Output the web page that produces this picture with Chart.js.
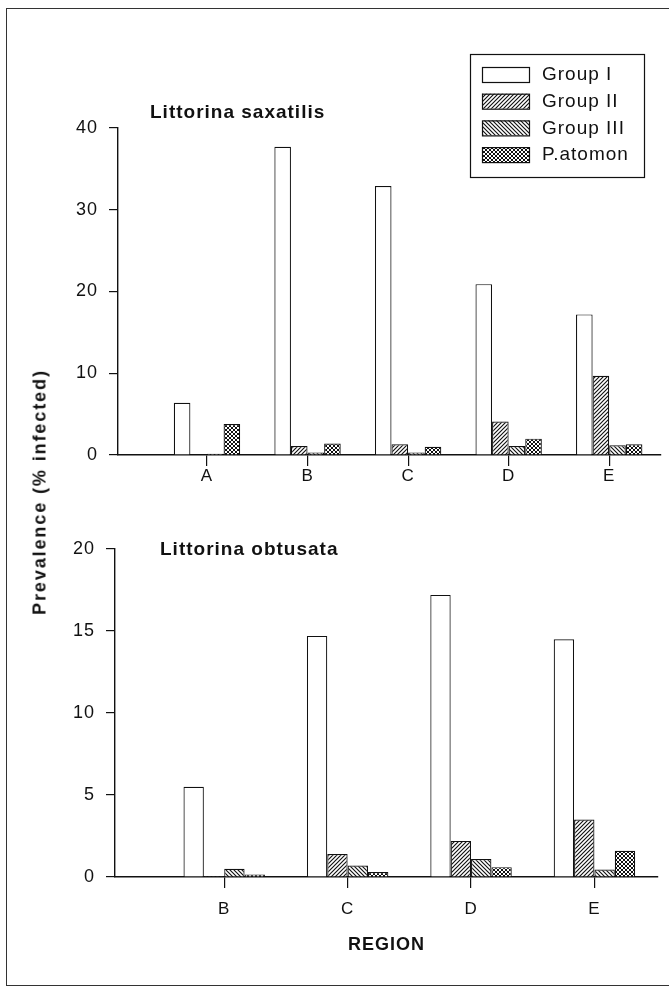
<!DOCTYPE html>
<html>
<head>
<meta charset="utf-8">
<title>Prevalence by region</title>
<script src="https://cdn.jsdelivr.net/npm/chart.js@4.4.1/dist/chart.umd.min.js"></script>
<style>
    html, body { margin: 0; padding: 0; background: #fff; }
    body { width: 669px; height: 987px; position: relative; overflow: hidden; font-family: "Liberation Sans", Arial, sans-serif; color: #111; }
    .frame { position: absolute; left: 6px; top: 8px; width: 720px; height: 978px; border: 1.5px solid #333; border-right: none; box-sizing: border-box; }
    .chart-box { position: absolute; left: 0; width: 669px; }
    #topBox { top: 0; height: 500px; }
    #bottomBox { top: 500px; height: 487px; }
    .ytitle { position: absolute; left: 40px; top: 492px; transform: translate(-50%, -50%) rotate(-90deg); font-weight: bold; font-size: 18px; letter-spacing: 1.9px; white-space: nowrap; }
</style>
</head>
<body>
<div class="frame"></div>
<div class="chart-box" id="topBox"><canvas id="saxChart" width="669" height="500"></canvas></div>
<div class="chart-box" id="bottomBox"><canvas id="obtChart" width="669" height="487"></canvas></div>
<div class="ytitle">Prevalence (% infected)</div>

<script>
// Trematode prevalence in two Littorina species

const seriesNames = ['Group I', 'Group II', 'Group III', 'P.atomon'];

// Littorina saxatilis
const saxRegions = ['A', 'B', 'C', 'D', 'E'];
const saxGroupI = [6.4, 37.7, 32.9, 20.9, 17.2];
const saxGroupII = [0, 1.1, 1.3, 4.1, 9.7];
const saxGroupIII = [0.15, 0.3, 0.3, 1.1, 1.2];
const saxAtomon = [3.8, 1.4, 1.0, 2.0, 1.3];
const saxTicks = [0, 10, 20, 30, 40];

// Littorina obtusata
const obtRegions = ['B', 'C', 'D', 'E'];
const obtGroupI = [5.5, 14.7, 17.2, 14.5];
const obtGroupII = [0.05, 1.4, 2.2, 3.5];
const obtGroupIII = [0.5, 0.7, 1.1, 0.45];
const obtAtomon = [0.15, 0.3, 0.6, 1.6];
const obtTicks = [0, 5, 10, 15, 20];

const INK = '#111';
const FONT = '"Liberation Sans", Arial, sans-serif';

// small tiles for the hatched fills
function makeFill(kind) {
    const s = 4;
    const c = document.createElement('canvas');
    c.width = s;
    c.height = s;
    const g = c.getContext('2d');
    g.fillStyle = '#fff';
    g.fillRect(0, 0, s, s);
    g.strokeStyle = INK;
    g.lineWidth = kind === 'cross' ? 1.0 : 1.15;
    g.beginPath();
    if (kind === 'fwd' || kind === 'cross') {
        g.moveTo(-1, s + 1); g.lineTo(s + 1, -1);
        g.moveTo(-1, 1); g.lineTo(1, -1);
        g.moveTo(s - 1, s + 1); g.lineTo(s + 1, s - 1);
    }
    if (kind === 'back' || kind === 'cross') {
        g.moveTo(-1, -1); g.lineTo(s + 1, s + 1);
        g.moveTo(s - 1, -1); g.lineTo(s + 1, 1);
        g.moveTo(-1, s - 1); g.lineTo(1, s + 1);
    }
    g.stroke();
    return g.createPattern(c, 'repeat');
}

const fills = ['#ffffff', makeFill('fwd'), makeFill('back'), makeFill('cross')];

function buildDatasets(seriesValues) {
    return seriesValues.map((vals, k) => ({
        label: seriesNames[k],
        data: vals.map((v, i) => ({ x: i, y: v })),
        backgroundColor: fills[k],
        borderColor: INK,
        borderWidth: 1.2,
        categoryPercentage: 0.66,
        barPercentage: 1
    }));
}

// species name written inside the plot
const panelTitle = {
    id: 'panelTitle',
    afterDraw(chart, args, opts) {
        if (!opts.text) return;
        const ctx = chart.ctx;
        const area = chart.chartArea;
        ctx.save();
        ctx.font = 'bold 19px ' + FONT;
        ctx.letterSpacing = '1px';
        ctx.fillStyle = INK;
        ctx.textAlign = 'left';
        ctx.textBaseline = 'middle';
        ctx.fillText(opts.text, area.left + opts.dx, area.top + opts.dy);
        ctx.restore();
    }
};

// boxed legend in the upper right corner
const boxLegend = {
    id: 'boxLegend',
    afterDraw(chart, args, opts) {
        if (!opts.show) return;
        const ctx = chart.ctx;
        ctx.save();
        ctx.strokeStyle = INK;
        ctx.lineWidth = 1.2;
        ctx.strokeRect(opts.x + 0.5, opts.y + 0.5, opts.w, opts.h);
        ctx.font = '19px ' + FONT;
        ctx.letterSpacing = '1px';
        ctx.textBaseline = 'middle';
        chart.data.datasets.forEach((ds, i) => {
            const top = opts.y + 13 + i * 26.7;
            ctx.fillStyle = ds.backgroundColor;
            ctx.fillRect(opts.x + 12, top, 47, 15);
            ctx.strokeRect(opts.x + 12.5, top + 0.5, 47, 15);
            ctx.fillStyle = INK;
            ctx.fillText(ds.label, opts.x + 72, top + 8);
        });
        ctx.restore();
    }
};

const tickSpacing = {
    id: 'tickSpacing',
    beforeDraw(chart) {
        chart.ctx.letterSpacing = '1px';
    }
};

function makeChart(canvasId, setup) {
    const ctx = document.getElementById(canvasId);
    return new Chart(ctx, {
        type: 'bar',
        data: { datasets: buildDatasets(setup.series) },
        plugins: [panelTitle, boxLegend, tickSpacing],
        options: {
            responsive: false,
            animation: false,
            events: [],
            layout: { padding: setup.padding },
            plugins: {
                legend: { display: false },
                tooltip: { enabled: false },
                panelTitle: setup.title,
                boxLegend: setup.legend
            },
            scales: {
                x: {
                    type: 'linear',
                    offset: false,
                    min: -0.885,
                    max: setup.regions.length - 1 + 0.515,
                    afterBuildTicks: scale => {
                        scale.ticks = setup.regions.map((r, i) => ({ value: i }));
                    },
                    afterFit: scale => { scale.height = setup.xHeight; },
                    ticks: {
                        autoSkip: false,
                        maxRotation: 0,
                        padding: setup.xPad,
                        color: INK,
                        font: { family: FONT, size: 17 },
                        callback: v => setup.regions[v] ?? ''
                    },
                    grid: { offset: false, drawOnChartArea: false, tickLength: 11, color: INK, lineWidth: 1.2 },
                    border: { display: true, color: INK, width: 1.4 },
                    title: setup.xTitle
                },
                y: {
                    min: setup.yTicks[0],
                    max: setup.yTicks[setup.yTicks.length - 1],
                    afterBuildTicks: scale => {
                        scale.ticks = setup.yTicks.map(v => ({ value: v }));
                    },
                    afterFit: scale => { scale.width = setup.yWidth; },
                    ticks: {
                        padding: 11,
                        color: INK,
                        font: { family: FONT, size: 18 }
                    },
                    grid: { drawOnChartArea: false, tickLength: 9, color: INK, lineWidth: 1.2 },
                    border: { display: true, color: INK, width: 1.4 }
                }
            }
        }
    });
}

makeChart('saxChart', {
    series: [saxGroupI, saxGroupII, saxGroupIII, saxAtomon],
    regions: saxRegions,
    yTicks: saxTicks,
    padding: { top: 128, right: 8, left: 0, bottom: 0 },
    yWidth: 118,
    xHeight: 45,
    xPad: 0,
    title: { text: 'Littorina saxatilis', dx: 32, dy: -15 },
    legend: { show: true, x: 470, y: 54, w: 174, h: 123 },
    xTitle: { display: false }
});

makeChart('obtChart', {
    series: [obtGroupI, obtGroupII, obtGroupIII, obtAtomon],
    regions: obtRegions,
    yTicks: obtTicks,
    padding: { top: 49, right: 11, left: 0, bottom: 0 },
    yWidth: 115,
    xHeight: 110,
    xPad: 11,
    title: { text: 'Littorina obtusata', dx: 45, dy: 1 },
    legend: { show: false },
    xTitle: {
        display: true,
        text: 'REGION',
        color: INK,
        font: { family: FONT, size: 18, weight: 'bold' },
        padding: { top: 0, bottom: 31 }
    }
});
</script>
</body>
</html>
